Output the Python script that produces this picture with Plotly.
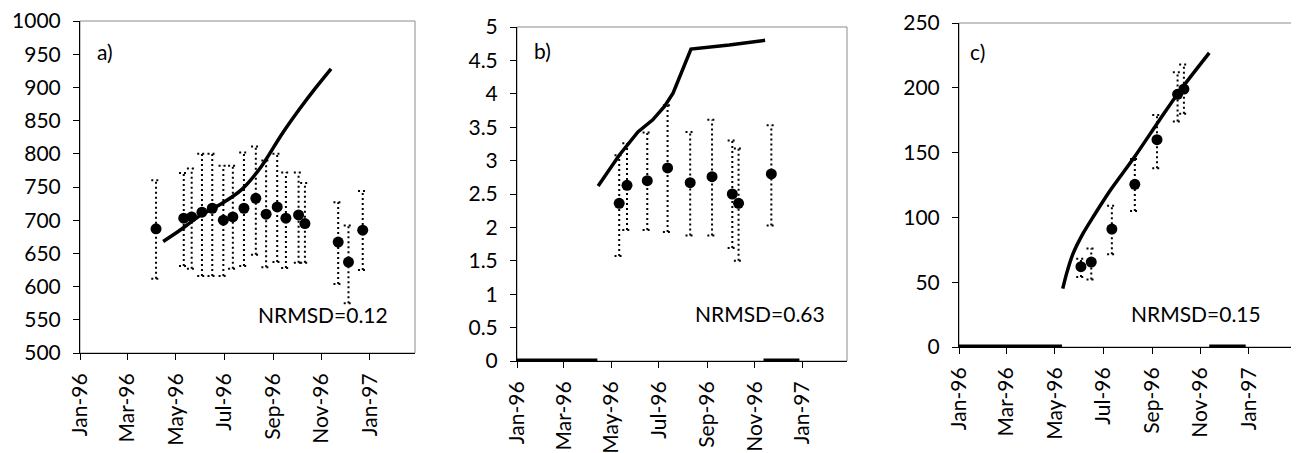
import plotly.graph_objects as go
import pandas as pd

# observation dates shared by the three panels
obs_dates_a = ['1996-04-06', '1996-05-11', '1996-05-21', '1996-06-03', '1996-06-16', '1996-06-30',
               '1996-07-12', '1996-07-26', '1996-08-10', '1996-08-23', '1996-09-06', '1996-09-17',
               '1996-10-03', '1996-10-11', '1996-11-22', '1996-12-05', '1996-12-23']
obs_a = [687, 703, 705, 712, 718, 700, 705, 718, 733, 709, 720, 703, 708, 695, 667, 637, 685]
obs_a_hi = [760, 771, 778, 800, 800, 782, 782, 802, 811, 790, 800, 772, 772, 756, 727, 692, 744]
obs_a_lo = [612, 631, 627, 616, 616, 616, 627, 631, 648, 629, 637, 628, 636, 636, 604, 575, 625]

model_dates_a = ['1996-04-15', '1996-05-04', '1996-06-02', '1996-06-28', '1996-07-23', '1996-08-17',
                 '1996-09-11', '1996-10-04', '1996-10-25', '1996-11-13']
model_a = [668, 683, 708, 725, 746, 781, 828, 867, 900, 928]

obs_dates_b = ['1996-05-11', '1996-05-21', '1996-06-16', '1996-07-12', '1996-08-10', '1996-09-07',
               '1996-10-03', '1996-10-11', '1996-11-22']
obs_b = [2.36, 2.63, 2.70, 2.89, 2.67, 2.76, 2.50, 2.36, 2.80]
obs_b_hi = [3.08, 3.26, 3.42, 3.83, 3.43, 3.61, 3.30, 3.18, 3.53]
obs_b_lo = [1.57, 1.96, 1.96, 1.93, 1.88, 1.88, 1.69, 1.50, 2.03]

model_dates_b = ['1996-04-14', '1996-05-11', '1996-06-04', '1996-06-23', '1996-07-08', '1996-07-19',
                 '1996-08-11', '1996-09-29', '1996-11-14']
model_b = [2.62, 3.08, 3.43, 3.61, 3.81, 4.01, 4.67, 4.73, 4.80]
zero_dates_b = ['1996-01-01', '1996-04-13', None, '1996-11-12', '1996-12-28']

obs_dates_c = ['1996-06-03', '1996-06-16', '1996-07-12', '1996-08-10', '1996-09-07', '1996-10-03',
               '1996-10-11']
obs_c = [62, 65.5, 91, 125.5, 160, 195, 199]
obs_c_hi = [68, 76, 109, 145, 179, 212, 218]
obs_c_lo = [54, 52, 71.5, 105, 138, 174, 180]

model_dates_c = ['1996-05-11', '1996-05-16', '1996-05-24', '1996-06-06', '1996-06-18', '1996-07-09',
                 '1996-08-10', '1996-09-10', '1996-10-05', '1996-11-12']
model_c = [45, 57, 72, 88, 100, 120, 147, 175, 197, 227]
zero_dates_c = ['1996-01-01', '1996-05-10', None, '1996-11-12', '1996-12-28']

panel_labels = ['a)', 'b)', 'c)']
nrmsd_labels = ['NRMSD=0.12', 'NRMSD=0.63', 'NRMSD=0.15']

FONT = 'Lato'
FS = 21
CAP_DAYS = 6


def err_path(dates, hi, lo):
    # dotted whiskers with caps, built from the data arrays
    xs, ys = [], []
    cap = pd.Timedelta(days=CAP_DAYS)
    for d, h, l in zip(dates, hi, lo):
        t = pd.Timestamp(d)
        xs += [t, t, None, t - cap, t + cap, None, t - cap, t + cap, None]
        ys += [l, h, None, h, h, None, l, l, None]
    return xs, ys


fig = go.Figure()

panels = [
    dict(obs_d=obs_dates_a, obs=obs_a, hi=obs_a_hi, lo=obs_a_lo, mod_d=model_dates_a, mod=model_a,
         zero_d=None, shape='spline', xa='x', ya='y'),
    dict(obs_d=obs_dates_b, obs=obs_b, hi=obs_b_hi, lo=obs_b_lo, mod_d=model_dates_b, mod=model_b,
         zero_d=zero_dates_b, shape='linear', xa='x2', ya='y2'),
    dict(obs_d=obs_dates_c, obs=obs_c, hi=obs_c_hi, lo=obs_c_lo, mod_d=model_dates_c, mod=model_c,
         zero_d=zero_dates_c, shape='spline', xa='x3', ya='y3'),
]

for p in panels:
    ex, ey = err_path(p['obs_d'], p['hi'], p['lo'])
    fig.add_trace(go.Scatter(x=ex, y=ey, mode='lines', xaxis=p['xa'], yaxis=p['ya'],
                             line=dict(color='black', width=2, dash='2px,3px'), hoverinfo='skip'))
    if p['zero_d'] is not None:
        fig.add_trace(go.Scatter(x=p['zero_d'], y=[0 if d else None for d in p['zero_d']],
                                 mode='lines', xaxis=p['xa'], yaxis=p['ya'],
                                 line=dict(color='black', width=5)))
    fig.add_trace(go.Scatter(x=p['mod_d'], y=p['mod'], mode='lines', xaxis=p['xa'], yaxis=p['ya'],
                             line=dict(color='black', width=3.5, shape=p['shape'], smoothing=0.8)))
    fig.add_trace(go.Scatter(x=p['obs_d'], y=p['obs'], mode='markers', xaxis=p['xa'], yaxis=p['ya'],
                             marker=dict(color='black', size=11)))

W, H = 1299, 453
OFF = 8  # the page body adds an 8px margin around the figure
# pixel boxes of each plot area on the page (left, right, top, bottom)
boxes = [(80, 415, 21, 353), (517, 847, 27, 361), (959, 1294, 23, 347)]
yranges = [[500, 1000], [0, 5], [0, 250]]
ydticks = [50, 0.5, 50]

xcommon = dict(type='date', range=['1996-01-01', '1997-02-27'], tick0='1996-01-01', dtick='M2',
               tickformat='%b-%y', tickangle=-90, showgrid=False, zeroline=False, showline=True,
               linecolor='black', linewidth=1, ticks='outside', ticklen=6, tickcolor='black',
               ticklabelstandoff=5, automargin=False, ticklabeloverflow='allow',
               tickfont=dict(family=FONT, size=FS, color='black'))
ycommon = dict(showgrid=False, zeroline=False, showline=True, linecolor='black', linewidth=1,
               ticks='outside', ticklen=6, tickcolor='black', ticklabelstandoff=8,
               automargin=False, ticklabeloverflow='allow',
               tickfont=dict(family=FONT, size=FS, color='black'))

layout = {}
for i, (l, r, t, b) in enumerate(boxes):
    sfx = '' if i == 0 else str(i + 1)
    l, r, t, b = l - OFF, r - OFF, t - OFF, b - OFF
    layout['xaxis' + sfx] = dict(xcommon, domain=[l / W, r / W], anchor='y' + sfx)
    layout['yaxis' + sfx] = dict(ycommon, domain=[1 - b / H, 1 - t / H], anchor='x' + sfx,
                                 range=yranges[i], dtick=ydticks[i])

fig.update_layout(**layout)

# grey plot-area border, then panel letters and NRMSD notes
label_pos = [(0.045, 0.908), (0.045, 0.93), (0.027, 0.912)]
nrmsd_pos = [(0.925, 0.117), (0.939, 0.141), (0.907, 0.102)]
for i in range(3):
    sfx = '' if i == 0 else str(i + 1)
    fig.add_shape(type='rect', xref='x' + sfx + ' domain', yref='y' + sfx + ' domain',
                  x0=0, x1=1, y0=0, y1=1, line=dict(color='#8c8c8c', width=1), layer='below')
    fig.add_annotation(text=panel_labels[i], xref='x' + sfx + ' domain', yref='y' + sfx + ' domain',
                       x=label_pos[i][0], y=label_pos[i][1], xanchor='left', yanchor='middle',
                       showarrow=False, font=dict(family=FONT, size=FS, color='black'))
    fig.add_annotation(text=nrmsd_labels[i], xref='x' + sfx + ' domain', yref='y' + sfx + ' domain',
                       x=nrmsd_pos[i][0], y=nrmsd_pos[i][1], xanchor='right', yanchor='middle',
                       showarrow=False, font=dict(family=FONT, size=FS, color='black'))

fig.update_layout(width=W, height=H, margin=dict(l=0, r=0, t=0, b=0, pad=0, autoexpand=False),
                  showlegend=False, paper_bgcolor='white', plot_bgcolor='white',
                  font=dict(family=FONT, size=FS, color='black'))

fig.write_html("out.html")
